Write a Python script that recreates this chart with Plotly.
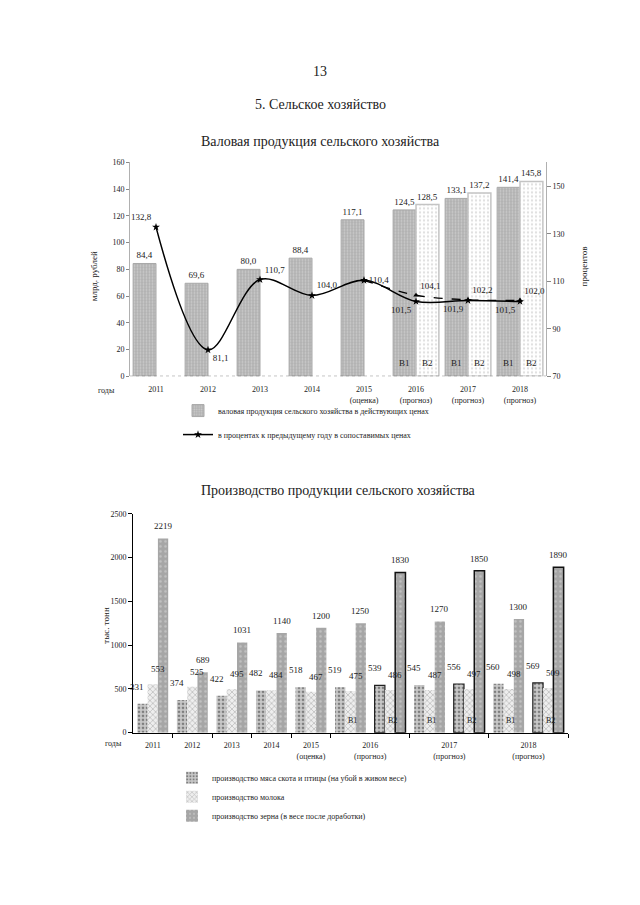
import plotly.graph_objects as go

# page geometry (browser body keeps an 8px margin)
PAGE_OFF = 8
W, H = 624, 889

# ---------------- Chart 1 data ----------------
years1 = ["2011", "2012", "2013", "2014", "2015", "2016", "2017", "2018"]
notes1 = ["", "", "", "", "(оценка)", "(прогноз)", "(прогноз)", "(прогноз)"]
gross_v1 = [84.4, 69.6, 80.0, 88.4, 117.1, 124.5, 133.1, 141.4]
gross_v2 = [None, None, None, None, None, 128.5, 137.2, 145.8]
index_v1 = [132.8, 81.1, 110.7, 104.0, 110.4, 101.5, 101.9, 101.5]
index_v2 = [None, None, None, None, 110.4, 104.1, 102.2, 102.0]
right_ticks1 = [70, 90, 110, 130, 150]

# ---------------- Chart 2 data ----------------
groups2 = ["2011", "2012", "2013", "2014", "2015",
           "2016 В1", "2016 В2", "2017 В1", "2017 В2", "2018 В1", "2018 В2"]
notes2 = {"2015": "(оценка)", "2016": "(прогноз)", "2017": "(прогноз)", "2018": "(прогноз)"}
meat = [331, 374, 422, 482, 518, 519, 539, 545, 556, 560, 569]
milk = [553, 525, 495, 484, 467, 475, 486, 487, 497, 498, 509]
grain = [2219, 689, 1031, 1140, 1200, 1250, 1830, 1270, 1850, 1300, 1890]

FONT = "Liberation Serif"
TXT = "#222222"


def px(x):
    return (x - PAGE_OFF) / W


def py(y):
    return 1 - (y - PAGE_OFF) / H


def fmt(v):
    return "" if v is None else f"{v:.1f}".replace(".", ",")


fig = go.Figure()

# ---------------- Chart 1 ----------------
x1 = list(range(len(years1)))
BW1 = 0.44
fig.add_trace(go.Bar(
    x=x1, y=gross_v1, width=BW1, offset=-BW1,
    name="валовая продукция сельского хозяйства в действующих ценах",
    marker=dict(color="#b2b2b2", line=dict(color="#a8a8a8", width=1),
                pattern=dict(shape=".", fgcolor="#e6e6e6", bgcolor="#b2b2b2", size=3, solidity=0.3)),
    text=[fmt(v) for v in gross_v1], textposition="outside", constraintext="none",
    textfont=dict(size=9, color=TXT, family=FONT), cliponaxis=False,
    legend="legend", legendgroup="a", xaxis="x", yaxis="y"))
fig.add_trace(go.Bar(
    x=x1, y=gross_v2, width=BW1, offset=0, showlegend=False,
    marker=dict(color="#ffffff", line=dict(color="#c4c4c4", width=1.5),
                pattern=dict(shape=".", fgcolor="#bdbdbd", size=4, solidity=0.25)),
    text=[fmt(v) for v in gross_v2], textposition="outside", constraintext="none",
    textfont=dict(size=9, color=TXT, family=FONT), cliponaxis=False,
    xaxis="x", yaxis="y"))

pos_v1 = ["top left", "bottom right", "top right", "top right", "middle right",
          "bottom left", "bottom left", "bottom left"]
fig.add_trace(go.Scatter(
    x=x1, y=index_v1, mode="lines+markers+text",
    name="в процентах к предыдущему году в сопоставимых ценах",
    line=dict(color="black", width=1.5, shape="spline"),
    marker=dict(symbol="star", size=6, color="black"),
    text=[fmt(v) for v in index_v1], textposition=pos_v1,
    textfont=dict(size=9, color=TXT, family=FONT), cliponaxis=False,
    legend="legend", legendgroup="b", xaxis="x", yaxis="y2"))
txt_v2 = ["" if (v is None or i == 4) else fmt(v) for i, v in enumerate(index_v2)]
fig.add_trace(go.Scatter(
    x=x1, y=index_v2, mode="lines+markers+text", showlegend=False,
    line=dict(color="black", width=1.3, shape="spline", dash="dash"),
    marker=dict(symbol="triangle-up", size=5, color="black"),
    text=txt_v2, textposition="top right",
    textfont=dict(size=9, color=TXT, family=FONT), cliponaxis=False,
    xaxis="x", yaxis="y2"))

# ---------------- Chart 2 ----------------
x2 = list(range(len(groups2)))
BW2 = 0.26
is_b2 = ["В2" in g for g in groups2]
fig.add_trace(go.Bar(
    x=x2, y=meat, width=BW2, offset=-1.5 * BW2,
    name="производство мяса скота и птицы (на убой в живом весе)",
    marker=dict(color="#c8c8c8",
                line=dict(color="#222", width=[1.2 if b else 0 for b in is_b2]),
                pattern=dict(shape=".", fgcolor="#333333", bgcolor="#c8c8c8", size=4, solidity=0.35)),
    legend="legend2", xaxis="x2", yaxis="y3"))
fig.add_trace(go.Bar(
    x=x2, y=milk, width=BW2, offset=-0.5 * BW2,
    name="производство молока",
    marker=dict(color="#ffffff", line=dict(width=0),
                pattern=dict(shape="x", fgcolor="#8a8a8a", bgcolor="#eeeeee", size=4, solidity=0.35)),
    legend="legend2", xaxis="x2", yaxis="y3"))
fig.add_trace(go.Bar(
    x=x2, y=grain, width=BW2, offset=0.5 * BW2,
    name="производство зерна (в весе после доработки)",
    marker=dict(color="#a6a6a6",
                line=dict(color="#111", width=[1.5 if b else 0 for b in is_b2]),
                pattern=dict(shape=".", fgcolor="#dcdcdc", bgcolor="#a6a6a6", size=5, solidity=0.2)),
    legend="legend2", xaxis="x2", yaxis="y3"))

# tick positions for chart 2 (centre of each year's groups)
year_of = [g.split()[0] for g in groups2]
uniq_years = []
for y in year_of:
    if y not in uniq_years:
        uniq_years.append(y)
tickvals2 = []
ticktext2 = []
for y in uniq_years:
    idx = [i for i, v in enumerate(year_of) if v == y]
    tickvals2.append(sum(idx) / len(idx))
    ticktext2.append(y + ("<br>" + notes2[y] if y in notes2 else ""))
bounds2 = [i + 0.5 for i in range(len(year_of) - 1) if year_of[i] != year_of[i + 1]]
bounds2.append(len(year_of) - 0.5)

ticktext1 = [y + ("<br>" + n if n else "") for y, n in zip(years1, notes1)]

ann = []


def page_text(text, x, y, size, **kw):
    ann.append(dict(text=text, x=px(x), y=py(y), xref="paper", yref="paper",
                    showarrow=False, xanchor="center", yanchor="middle",
                    font=dict(size=size, color=TXT, family=FONT), **kw))


page_text("13", 320, 68, 14)
page_text("5. Сельское хозяйство", 320, 101, 14)
page_text("Валовая продукция сельского хозяйства", 320, 139, 14)
page_text("Производство продукции сельского хозяйства", 338, 491, 14)
page_text("годы", 106, 390, 8)
page_text("годы", 113, 747, 8)
page_text("млрд. рублей", 94, 275, 9, textangle=-90)
page_text("процентов", 584, 265, 9, textangle=-90)
page_text("тыс. тонн", 106, 628, 9, textangle=-90)

# В1 / В2 labels in chart 1
for i, v in enumerate(gross_v2):
    if v is not None:
        for lab, off in (("В1", -BW1 / 2), ("В2", BW1 / 2)):
            ann.append(dict(text=lab, x=i + off, y=0, xref="x", yref="y", yshift=13,
                            showarrow=False, font=dict(size=9, color=TXT, family=FONT)))

# value labels & В1/В2 labels in chart 2
for i in x2:
    ann.append(dict(text=str(meat[i]), x=i - BW2, y=meat[i], xref="x2", yref="y3",
                    xshift=-5, yshift=17, showarrow=False,
                    font=dict(size=9, color=TXT, family=FONT)))
    ann.append(dict(text=str(milk[i]), x=i, y=milk[i], xref="x2", yref="y3",
                    xshift=5, yshift=15, showarrow=False,
                    font=dict(size=9, color=TXT, family=FONT)))
    ann.append(dict(text=str(grain[i]), x=i + BW2, y=grain[i], xref="x2", yref="y3",
                    yshift=12, showarrow=False,
                    font=dict(size=9, color=TXT, family=FONT)))
    parts = groups2[i].split()
    if len(parts) > 1:
        ann.append(dict(text=parts[1], x=i, y=0, xref="x2", yref="y3", yshift=12, xshift=2,
                        showarrow=False, font=dict(size=8, color=TXT, family=FONT)))

fig.update_layout(
    width=W, height=H, margin=dict(l=0, r=0, t=0, b=0),
    paper_bgcolor="white", plot_bgcolor="rgba(0,0,0,0)",
    font=dict(family=FONT, color=TXT, size=8),
    barmode="overlay",
    xaxis=dict(domain=[px(130), px(546)], range=[-0.5, len(years1) - 0.5], anchor="y",
               tickmode="array", tickvals=x1, ticktext=ticktext1, ticks="",
               ticklabelstandoff=7,
               showline=False, showgrid=False, zeroline=False, tickfont=dict(size=8)),
    yaxis=dict(domain=[py(376), py(160)], range=[0, 160], dtick=20, anchor="x",
               ticks="outside", ticklen=3, tickcolor="#888", showline=True, linecolor="#b0b0b0",
               showgrid=False, zeroline=False, tickfont=dict(size=8)),
    yaxis2=dict(overlaying="y", side="right", anchor="x", range=[70, 160],
                tickmode="array", tickvals=right_ticks1, ticks="outside", ticklen=4,
                tickcolor="#888", showline=True, linecolor="#b0b0b0",
                showgrid=False, zeroline=False, tickfont=dict(size=8)),
    xaxis2=dict(domain=[px(133), px(568)], range=[-0.5, len(groups2) - 0.5], anchor="y3",
                tickmode="array", tickvals=tickvals2, ticktext=ticktext2, ticks="",
                ticklabelstandoff=5,
                showline=True, linecolor="black", linewidth=1, showgrid=False, zeroline=False,
                tickfont=dict(size=8),
                minor=dict(tickmode="array", tickvals=bounds2, ticks="outside", ticklen=4,
                           tickcolor="black", showgrid=False)),
    yaxis3=dict(domain=[py(736), py(515)], range=[0, 2500], dtick=500, anchor="x2",
                ticks="outside", ticklen=4, tickcolor="black", showline=True, linecolor="black",
                showgrid=False, zeroline=False, tickfont=dict(size=8)),
    legend=dict(x=px(178), y=py(396), xanchor="left", yanchor="top", bgcolor="rgba(0,0,0,0)",
                font=dict(size=8, family=FONT, color=TXT), tracegroupgap=5, itemwidth=30),
    legend2=dict(x=px(172), y=py(767), xanchor="left", yanchor="top", bgcolor="rgba(0,0,0,0)",
                 font=dict(size=8, family=FONT, color=TXT), tracegroupgap=0, itemwidth=30),
    annotations=ann,
    shapes=[dict(type="line", xref="x domain", yref="y", x0=0, x1=1, y0=0, y1=0,
                 line=dict(color="#777", width=1, dash="dot"))],
)

fig.write_html("out.html")
